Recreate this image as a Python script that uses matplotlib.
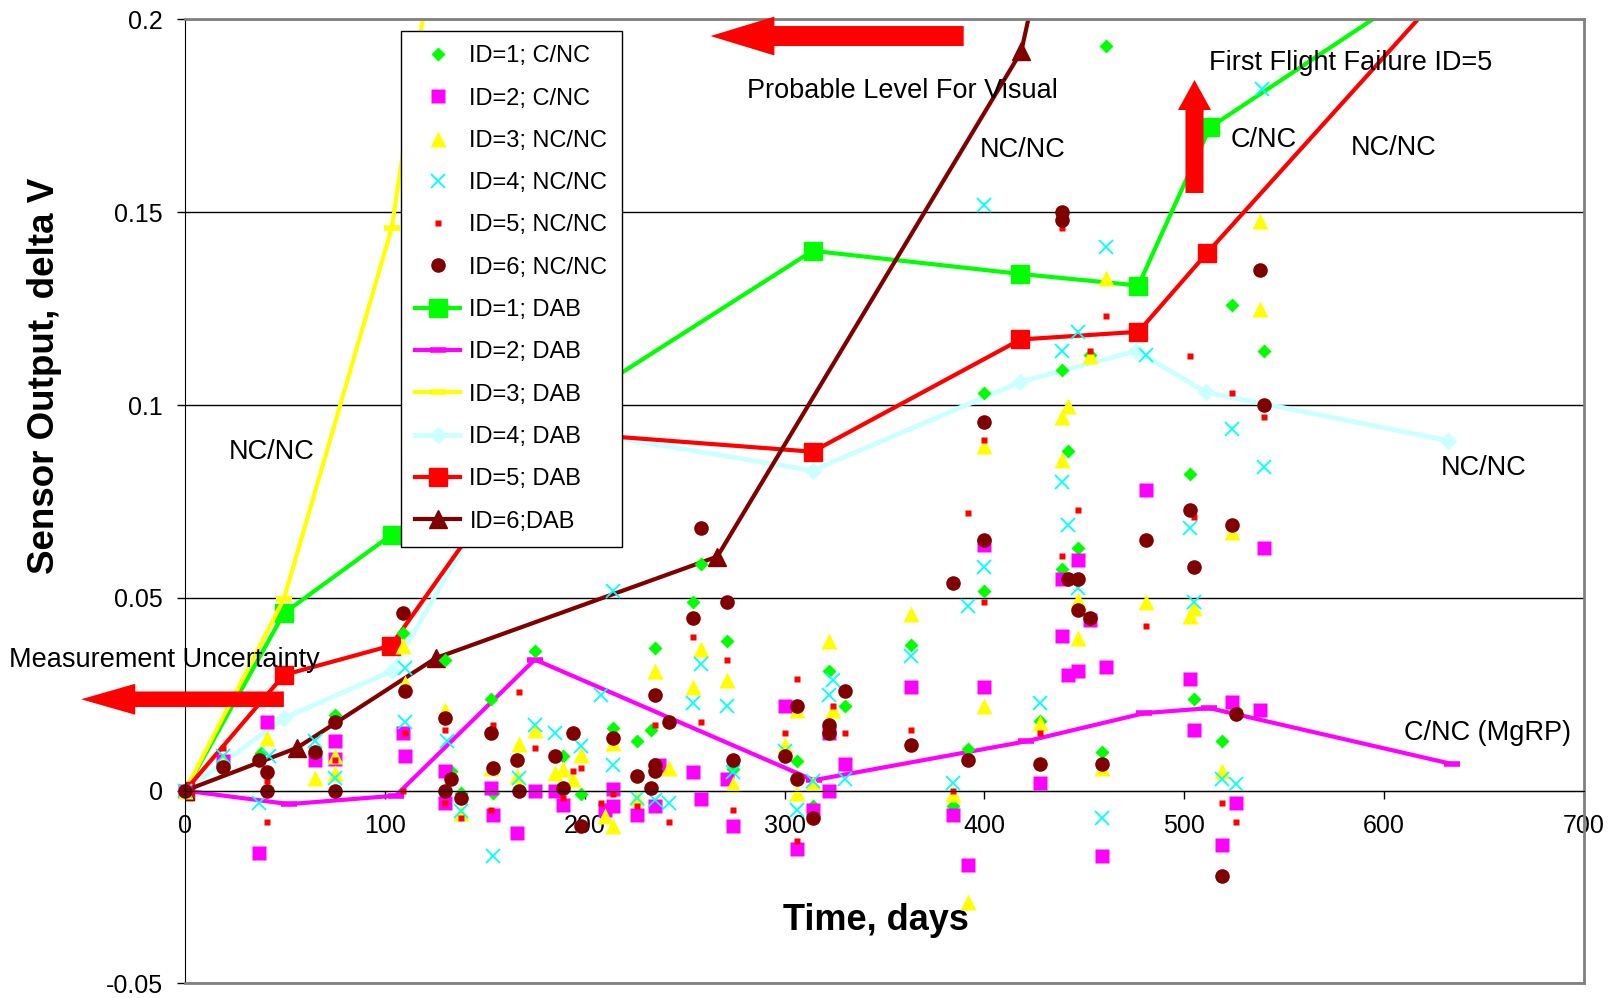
import numpy as np
import matplotlib.pyplot as plt

plt.rcParams['font.family'] = ['Liberation Sans', 'DejaVu Sans']
plt.rcParams['axes.unicode_minus'] = False

# ---- DAB trend lines (days, delta V) ----
dab1_x = [0, 49.4, 103.4, 150, 210, 314, 418, 477, 512.8, 632]
dab1_y = [0, 0.046, 0.0664, 0.0836, 0.1056, 0.140, 0.134, 0.131, 0.172, 0.213]
dab2_x = [0, 52, 105.4, 175, 314.5, 421, 480, 512.6, 634]
dab2_y = [0, -0.0035, -0.0013, 0.034, 0.0027, 0.0128, 0.0201, 0.0214, 0.0069]
dab3_x = [0, 49.4, 103.4, 126]
dab3_y = [0, 0.0497, 0.146, 0.225]
dab4_x = [0, 49.4, 103.4, 150, 210, 314, 418, 476, 511, 632]
dab4_y = [0, 0.0188, 0.031, 0.073, 0.092, 0.083, 0.106, 0.114, 0.1033, 0.0908]
dab5_x = [0, 49.4, 103, 150, 210, 314, 418, 477, 511.3, 632]
dab5_y = [0, 0.030, 0.0376, 0.072, 0.092, 0.0879, 0.117, 0.119, 0.1394, 0.2087]
dab6_x = [0, 56, 125.5, 266.3, 418.4, 477]
dab6_y = [0, 0.0111, 0.0344, 0.0607, 0.1917, 0.33]

# ---- individual readings ----
id1_x = [0, 19, 38, 75, 109, 130, 133, 138, 153, 154, 175, 189, 198, 214, 226,
         233, 235, 254, 258, 271, 274, 306, 314, 322, 330, 363, 384, 392, 400, 400,
         428, 439, 439, 442, 447, 453, 459, 461, 503, 505, 519, 524, 526, 540]
id1_y = [0, 0.007, 0.0098, 0.0197, 0.041, 0.034, 0.005, -0.0006, 0.0238, -0.0006,
         0.0361, 0.0089, -0.001, 0.0162, 0.0128, 0.0158, 0.037, 0.0489, 0.0588, 0.0389,
         0.0055, 0.0078, -0.004, 0.0309, 0.0219, 0.0378, -0.004, 0.0108, 0.0518, 0.103,
         0.018, 0.0575, 0.109, 0.088, 0.0629, 0.113, 0.0099, 0.193, 0.082, 0.0238,
         0.0128, 0.126, 0.021, 0.1139]

id2_x = [0, 19, 41, 37, 65, 75, 75, 109, 110, 130, 130, 153, 154, 166, 175,
         185, 189, 210, 214, 214, 226, 235, 237, 254, 258, 271, 274, 300, 306, 314,
         322, 322, 330, 363, 384, 392, 400, 400, 428, 439, 439, 442, 447, 447, 453,
         461, 459, 481, 503, 505, 524, 526, 519, 538, 540]
id2_y = [0, 0.0076, 0.0178, -0.0162, 0.008, 0.013, 0.0082, 0.015, 0.0089, 0.005,
         -0.0032, 0.0007, -0.0062, -0.011, -0.0002, -0.0002, -0.0036, -0.0049, 0.0003, -0.0041,
         -0.0062, -0.0041, 0.0067, 0.0048, -0.0021, 0.0029, -0.0091, 0.0219, -0.0151, -0.0049,
         -0.0002, 0.015, 0.0069, 0.0268, -0.0062, -0.0192, 0.0268, 0.0638, 0.002, 0.055,
         0.04, 0.0301, 0.0309, 0.0599, 0.0443, 0.032, -0.017, 0.078, 0.0289, 0.0158,
         0.0229, -0.0032, -0.0142, 0.0208, 0.0629]

id3_x = [0, 19, 41, 65, 75, 75, 109, 110, 130, 138, 153, 167, 166, 175, 185,
         189, 198, 194, 210, 214, 214, 226, 235, 242, 254, 258, 271, 274, 300, 306,
         306, 314, 322, 324, 363, 384, 392, 400, 400, 428, 439, 439, 442, 447, 447,
         453, 459, 461, 481, 503, 505, 519, 524, 538, 538]
id3_y = [0, 0.008, 0.0137, 0.0033, 0.0089, 0.0046, 0.0376, 0.028, 0.021, -0.0058,
         0.0059, 0.0121, 0.0037, 0.0158, 0.0046, 0.0055, 0.0093, 0.003, -0.0067, 0.0124,
         -0.0092, -0.0019, 0.031, 0.0059, 0.0268, 0.0367, 0.0288, 0.0016, 0.0119, 0.021,
         -0.0006, 0.002, 0.0389, 0.021, 0.0458, -0.001, -0.029, 0.0219, 0.0893, 0.0175,
         0.097, 0.0858, 0.0998, 0.0495, 0.0396, 0.1126, 0.0059, 0.133, 0.0488, 0.0454,
         0.0473, 0.005, 0.0672, 0.1248, 0.1478]

id4_x = [0, 19, 37, 42, 65, 75, 110, 110, 131, 138, 154, 167, 175, 185, 198,
         208, 214, 214, 226, 235, 242, 254, 258, 271, 274, 300, 306, 314, 322, 324,
         330, 363, 384, 392, 400, 400, 428, 439, 439, 442, 447, 447, 459, 461, 481,
         503, 505, 519, 524, 526, 539, 540]
id4_y = [0, 0.009, -0.0032, 0.0089, 0.0128, 0.0033, 0.0318, 0.0178, 0.0128, -0.0054,
         -0.017, 0.0033, 0.0169, 0.015, 0.0115, 0.0249, 0.0517, 0.0067, -0.0019, -0.0023,
         -0.0032, 0.0227, 0.0329, 0.0219, 0.0048, 0.0102, -0.0049, 0.0025, 0.0249, 0.0288,
         0.0029, 0.0348, 0.002, 0.0478, 0.058, 0.152, 0.0227, 0.080, 0.114, 0.069,
         0.119, 0.0525, -0.0071, 0.141, 0.113, 0.068, 0.0488, 0.0029, 0.0937, 0.0016,
         0.182, 0.0839]

id5_x = [0, 19, 41, 41, 75, 110, 109, 130, 130, 138, 154, 153, 167, 175, 189,
         194, 198, 208, 214, 226, 235, 242, 254, 258, 271, 274, 300, 306, 306, 324,
         330, 363, 384, 392, 400, 400, 428, 439, 439, 447, 453, 461, 481, 503, 505,
         519, 524, 526, 540]
id5_y = [0, 0.011, 0.0024, -0.0082, 0.008, 0.015, 0.0, 0.0158, -0.0032, -0.0071,
         0.0171, -0.0049, 0.0257, 0.011, -0.002, 0.005, 0.0059, -0.0032, -0.001, -0.0041,
         0.0169, -0.0082, 0.0398, 0.0178, 0.0338, -0.0051, 0.015, 0.0289, -0.0131, 0.0219,
         0.015, 0.0158, -0.0002, 0.072, 0.0489, 0.091, 0.015, 0.0609, 0.146, 0.0728,
         0.114, 0.123, 0.0428, 0.1127, 0.071, -0.0032, 0.103, -0.0082, 0.097]

id6_x = [0, 19, 37, 41, 41, 65, 75, 75, 109, 110, 130, 133, 130, 138, 153,
         154, 166, 167, 185, 194, 189, 198, 214, 226, 235, 235, 235, 233, 242, 254,
         258, 271, 274, 300, 306, 306, 314, 322, 322, 330, 363, 384, 392, 400, 400,
         428, 439, 439, 442, 447, 447, 453, 459, 481, 503, 505, 519, 524, 526, 538,
         540]
id6_y = [0, 0.0061, 0.008, 0.0048, 0.0, 0.0099, 0.0178, 0.0, 0.046, 0.0259,
         0.0188, 0.0029, 0.0, -0.0019, 0.015, 0.0059, 0.008, 0.0, 0.0089, 0.015,
         0.0007, -0.0092, 0.0137, 0.0037, 0.0249, 0.0067, 0.005, 0.0007, 0.0178, 0.0449,
         0.068, 0.0489, 0.008, 0.0089, 0.0219, 0.0029, -0.0071, 0.0169, 0.015, 0.0259,
         0.0119, 0.0538, 0.008, 0.0957, 0.065, 0.0069, 0.150, 0.148, 0.055, 0.055,
         0.0469, 0.0448, 0.0069, 0.065, 0.0728, 0.0581, -0.0222, 0.069, 0.0199, 0.1349,
         0.0999]

x_ticks = [0, 100, 200, 300, 400, 500, 600, 700]
y_ticks = [-0.05, 0, 0.05, 0.1, 0.15, 0.2]
y_tick_labels = ['-0.05', '0', '0.05', '0.1', '0.15', '0.2']

fig = plt.figure(figsize=(16.13, 9.98), dpi=100)
ax = fig.add_axes([0.1148, 0.0146, 0.8672, 0.9659])

# trend lines first, readings drawn over them
lw = 3
d1, = ax.plot(dab1_x, dab1_y, color='#00FF00', lw=lw, marker='s', ms=13, label='ID=1; DAB')
d2, = ax.plot(dab2_x, dab2_y, color='#FF00FF', lw=lw, marker='_', ms=11, mew=4, label='ID=2; DAB')
d3, = ax.plot(dab3_x, dab3_y, color='#FFFF00', lw=lw, marker='_', ms=11, mew=4, label='ID=3; DAB')
d4, = ax.plot(dab4_x, dab4_y, color='#CCFFFF', lw=3.5, marker='D', ms=8.5, label='ID=4; DAB')
d5, = ax.plot(dab5_x, dab5_y, color='#FF0000', lw=lw, marker='s', ms=13, label='ID=5; DAB')
d6, = ax.plot(dab6_x, dab6_y, color='#800000', lw=lw, marker='^', ms=13, label='ID=6;DAB')

s1, = ax.plot(id1_x, id1_y, ls='none', marker='D', ms=7, color='#00FF00', mec='none',
              clip_on=False, label='ID=1; C/NC')
s2, = ax.plot(id2_x, id2_y, ls='none', marker='s', ms=10.5, color='#FF00FF', mec='none',
              clip_on=False, label='ID=2; C/NC')
s3, = ax.plot(id3_x, id3_y, ls='none', marker='^', ms=12, color='#FFFF00', mec='none',
              clip_on=False, label='ID=3; NC/NC')
s4, = ax.plot(id4_x, id4_y, ls='none', marker='x', ms=9.5, mew=1.3, color='#00FFFF',
              clip_on=False, label='ID=4; NC/NC')
s5, = ax.plot(id5_x, id5_y, ls='none', marker='s', ms=5, color='#FF0000', mec='none',
              clip_on=False, label='ID=5; NC/NC')
s6, = ax.plot(id6_x, id6_y, ls='none', marker='o', ms=10.5, color='#800000', mec='none',
              clip_on=False, label='ID=6; NC/NC')

ax.set_xlim(0, 700)
ax.set_ylim(-0.05, 0.2)
ax.set_xticks(x_ticks)
ax.set_yticks(y_ticks)
ax.set_yticklabels(y_tick_labels)
ax.tick_params(axis='both', labelsize=18, direction='out', length=6, width=1, color='black')
ax.tick_params(axis='y', pad=10)
ax.tick_params(axis='x', pad=11)
ax.grid(axis='y', color='black', lw=1)

ax.spines['bottom'].set_position(('data', 0))
ax.spines['bottom'].set_color('black')
ax.spines['left'].set_color('black')
for side in ['top', 'right']:
    ax.spines[side].set_color('#808080')
    ax.spines[side].set_linewidth(2)
ax.plot([0, 1], [0, 0], transform=ax.transAxes, color='#808080', lw=2, clip_on=False, zorder=3)

ax.set_xlabel('Time, days', fontsize=26, fontweight='bold', va='baseline')
ax.xaxis.set_label_coords(0.4937, 0.0554)
ax.set_ylabel('Sensor Output, delta V', fontsize=26.5, fontweight='bold', va='baseline')
ax.yaxis.set_label_coords(-0.0938, 0.6306)

handles = [s1, s2, s3, s4, s5, s6, d1, d2, d3, d4, d5, d6]
leg = ax.legend(handles=handles, loc='upper left', bbox_to_anchor=(0.1543, 0.988),
                borderaxespad=0, fontsize=17, fancybox=False, edgecolor='black',
                framealpha=1, labelspacing=0.86, borderpad=0.6, handlelength=1.9,
                handletextpad=0.4, numpoints=1)
leg.get_frame().set_linewidth(1)
leg.set_zorder(10)

# annotations
fs = 19.5
ax.text(43.2, 0.0859, 'NC/NC', fontsize=fs, ha='center', va='baseline')
ax.text(358.7, 0.1796, 'Probable Level For Visual', fontsize=fs, ha='center', va='baseline')
ax.text(419, 0.1644, 'NC/NC', fontsize=fs, ha='center', va='baseline')
ax.text(583.1, 0.1869, 'First Flight Failure ID=5', fontsize=fs, ha='center', va='baseline')
ax.text(539.6, 0.1668, 'C/NC', fontsize=fs, ha='center', va='baseline')
ax.text(604.6, 0.1649, 'NC/NC', fontsize=fs, ha='center', va='baseline')
ax.text(650, 0.0819, 'NC/NC', fontsize=fs, ha='center', va='baseline')
ax.text(651.5, 0.0132, 'C/NC (MgRP)', fontsize=fs, ha='center', va='baseline')
ax.text(-88.1, 0.032, 'Measurement Uncertainty', fontsize=fs, ha='left', va='baseline',
        clip_on=False)

# block arrows
ax.annotate('', xy=(262.9, 0.1957), xytext=(389.6, 0.1957), annotation_clip=False, zorder=6,
            arrowprops=dict(arrowstyle='simple,head_length=4.6,head_width=2.8,tail_width=1.44',
                            color='#FF0000', lw=0, shrinkA=0, shrinkB=0, mutation_scale=10))
ax.annotate('', xy=(-52.1, 0.0237), xytext=(49.4, 0.0237), annotation_clip=False, zorder=6,
            arrowprops=dict(arrowstyle='simple,head_length=3.9,head_width=2.23,tail_width=1.12',
                            color='#FF0000', lw=0, shrinkA=0, shrinkB=0, mutation_scale=10))
ax.annotate('', xy=(505.1, 0.1843), xytext=(505.1, 0.155), annotation_clip=False, zorder=6,
            arrowprops=dict(arrowstyle='simple,head_length=2.16,head_width=2.38,tail_width=1.3',
                            color='#FF0000', lw=0, shrinkA=0, shrinkB=0, mutation_scale=10))

fig.savefig('out.png', dpi=100)
